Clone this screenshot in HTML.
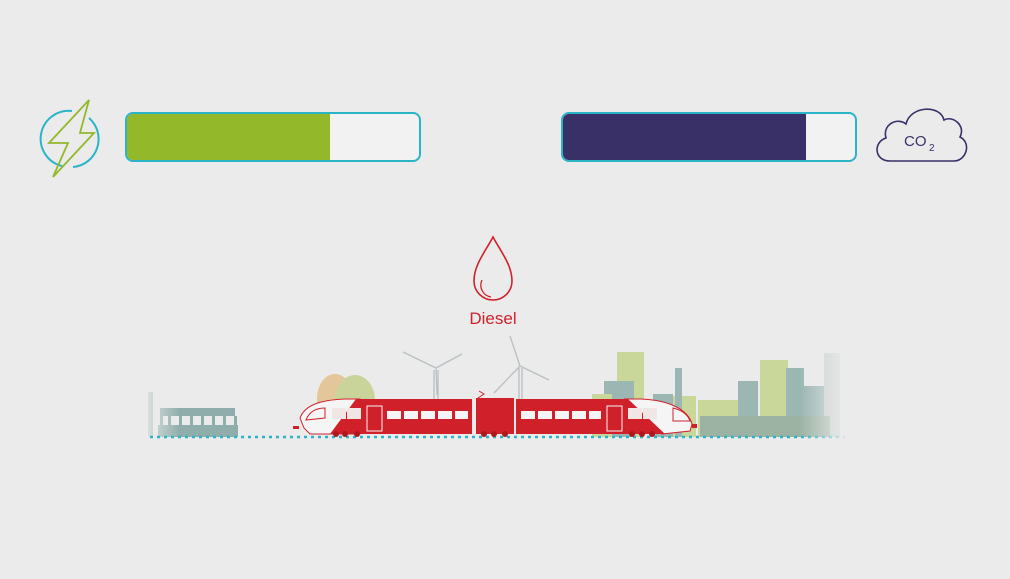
<!DOCTYPE html>
<html><head><meta charset="utf-8"><style>
html,body{margin:0;padding:0;background:#ebebeb;}
svg{display:block;}
</style></head><body>
<svg width="1010" height="579" viewBox="0 0 1010 579" xmlns="http://www.w3.org/2000/svg">
<defs>
<linearGradient id="fadeL" x1="0" x2="1"><stop offset="0" stop-color="#ebebeb" stop-opacity="1"/><stop offset="1" stop-color="#ebebeb" stop-opacity="0"/></linearGradient>
<linearGradient id="fadeR" x1="0" x2="1"><stop offset="0" stop-color="#ebebeb" stop-opacity="0"/><stop offset="1" stop-color="#ebebeb" stop-opacity="1"/></linearGradient>
</defs>
<rect width="1010" height="579" fill="#ebebeb"/>
<!-- energy icon -->
<path d="M72 111 A28 28 0 0 0 62 166" fill="none" stroke="#2bb3c8" stroke-width="2"/>
<path d="M89 118 A28 28 0 0 1 73 167" fill="none" stroke="#2bb3c8" stroke-width="2"/>
<path d="M89 100 L49 143 L68 143 L53 177 L94 133 L80 133 Z" fill="none" stroke="#93b82a" stroke-width="1.8" stroke-linejoin="miter"/>
<!-- bars -->
<rect x="126" y="113" width="294" height="48" rx="7" fill="#f2f2f2" stroke="#2bb3c8" stroke-width="2"/>
<path d="M133 114 H330 V160 H133 A6 6 0 0 1 127 154 V120 A6 6 0 0 1 133 114Z" fill="#93b82a"/>
<rect x="562" y="113" width="294" height="48" rx="7" fill="#f2f2f2" stroke="#2bb3c8" stroke-width="2"/>
<path d="M569 114 H806 V160 H569 A6 6 0 0 1 563 154 V120 A6 6 0 0 1 569 114Z" fill="#3a3068"/>
<!-- cloud -->
<path d="M890 161 C874 161 873 142 886 138 C882 124 898 117 906 124 C910 106 940 104 944 120 C953 115 966 126 960 137 C972 143 966 161 954 161 Z" fill="none" stroke="#3a3068" stroke-width="1.6"/>
<text x="904" y="146" font-family="Liberation Sans, sans-serif" font-size="15" fill="#3a3068">CO</text>
<text x="929" y="151" font-family="Liberation Sans, sans-serif" font-size="10" fill="#3a3068">2</text>
<!-- drop -->
<path d="M493 237 C485 252 474 265 474 281 A19 19 0 0 0 512 281 C512 265 501 252 493 237Z" fill="none" stroke="#d0212a" stroke-width="1.6"/>
<path d="M482 280 A12 12 0 0 0 491 297" fill="none" stroke="#d0212a" stroke-width="1.3"/>
<text x="493" y="324" text-anchor="middle" font-family="Liberation Sans, sans-serif" font-size="17" fill="#d0212a">Diesel</text>
<!-- city -->
<g opacity="0.85">
<rect x="617" y="352" width="27" height="85" fill="#c5d48e"/>
<rect x="604" y="381" width="30" height="56" fill="#8fadaa"/>
<rect x="592" y="394" width="20" height="43" fill="#c5d48e"/>
<rect x="666" y="396" width="30" height="41" fill="#c5d48e"/>
<rect x="675" y="368" width="7" height="69" fill="#8fadaa"/>
<rect x="653" y="394" width="20" height="43" fill="#8fadaa"/>
<rect x="698" y="400" width="40" height="37" fill="#c5d48e"/>
<rect x="738" y="381" width="20" height="56" fill="#8fadaa"/>
<rect x="760" y="360" width="28" height="77" fill="#c5d48e"/>
<rect x="786" y="368" width="18" height="69" fill="#8fadaa"/>
<rect x="801" y="386" width="25" height="51" fill="#8fadaa"/>
<rect x="824" y="353" width="16" height="84" fill="#c0ccc8"/>
<rect x="700" y="416" width="130" height="21" fill="#8faa98"/>
</g>
<!-- station left -->
<rect x="148" y="392" width="5" height="45" fill="#8fadaa"/>
<rect x="160" y="408" width="75" height="8" fill="#8fadaa"/>
<rect x="160" y="416" width="3" height="10" fill="#8fadaa"/>
<g fill="#8fadaa"><rect x="158" y="425" width="80" height="12"/></g>
<g fill="#8fadaa"><rect x="168" y="416" width="3" height="10"/><rect x="179" y="416" width="3" height="10"/><rect x="190" y="416" width="3" height="10"/><rect x="201" y="416" width="3" height="10"/><rect x="212" y="416" width="3" height="10"/><rect x="223" y="416" width="3" height="10"/><rect x="234" y="416" width="3" height="10"/></g>
<rect x="140" y="380" width="40" height="60" fill="url(#fadeL)"/>
<!-- trees -->
<ellipse cx="335" cy="398" rx="18" ry="24" fill="#e3c79a"/>
<ellipse cx="355" cy="400" rx="20" ry="25" fill="#c8d49a"/>
<!-- turbines -->
<g stroke="#b8bfc2" stroke-width="1.3" fill="none">
<line x1="434" y1="370" x2="434" y2="400"/><line x1="438" y1="370" x2="438" y2="400"/>
<path d="M436 368 L403 352 M436 368 L462 354 M436 368 L437 395"/>
<line x1="519" y1="368" x2="519" y2="400"/><line x1="522" y1="368" x2="522" y2="400"/>
<path d="M520 366 L510 336 M520 366 L549 380 M520 366 L494 393"/>
</g>
<!-- track -->
<line x1="150" y1="437" x2="845" y2="437" stroke="#2bb3c8" stroke-width="2.5" stroke-dasharray="3 4"/>
<!-- train -->
<g>
<path d="M304 428 L300 418 C305 405 320 400 345 399 L360 399 L360 434 L310 434Z" fill="#f5f5f5" stroke="#d0212a" stroke-width="1"/>
<path d="M356 399 H472 V434 H330 L356 399Z" fill="#d0212a"/>
<rect x="476" y="398" width="38" height="36" fill="#d0212a"/>
<rect x="516" y="399" width="114" height="35" fill="#d0212a"/>
<path d="M625 399 L640 399 C670 400 688 410 692 424 L690 431 L662 434 Z" fill="#f5f5f5" stroke="#d0212a" stroke-width="1"/>
<path d="M620 399 H628 L665 434 H620Z" fill="#d0212a"/>
<path d="M306 420 C310 410 318 408 325 408 V418 Z" fill="none" stroke="#d0212a" stroke-width="1"/>
<path d="M673 408 C682 410 688 415 690 421 H673Z" fill="none" stroke="#d0212a" stroke-width="1"/>
<g fill="#f0e6e6"><rect x="332" y="408" width="14" height="11"/><rect x="347" y="408" width="14" height="11"/><rect x="628" y="408" width="14" height="11"/><rect x="643" y="408" width="14" height="11"/></g>
<g fill="#f5f5f5"><rect x="387" y="411" width="14" height="8"/><rect x="404" y="411" width="14" height="8"/><rect x="421" y="411" width="14" height="8"/><rect x="438" y="411" width="14" height="8"/><rect x="455" y="411" width="13" height="8"/><rect x="521" y="411" width="14" height="8"/><rect x="538" y="411" width="14" height="8"/><rect x="555" y="411" width="14" height="8"/><rect x="572" y="411" width="14" height="8"/><rect x="589" y="411" width="12" height="8"/></g>
<g fill="none" stroke="#f5f5f5" stroke-width="1"><rect x="367" y="406" width="15" height="25"/><rect x="607" y="406" width="15" height="25"/></g>
<path d="M478 398 L484 394 L479 391" fill="none" stroke="#d0212a" stroke-width="1"/>
<rect x="293" y="426" width="6" height="3" fill="#d0212a"/><rect x="692" y="424" width="5" height="4" fill="#d0212a"/>
<g fill="#b01820"><circle cx="336" cy="434" r="3"/><circle cx="345" cy="434" r="3"/><circle cx="357" cy="434" r="3"/><circle cx="484" cy="434" r="3"/><circle cx="494" cy="434" r="3"/><circle cx="505" cy="434" r="3"/><circle cx="632" cy="434" r="3"/><circle cx="642" cy="434" r="3"/><circle cx="652" cy="434" r="3"/></g>
</g>
<rect x="800" y="340" width="50" height="105" fill="url(#fadeR)"/>
</svg>
</body></html>
